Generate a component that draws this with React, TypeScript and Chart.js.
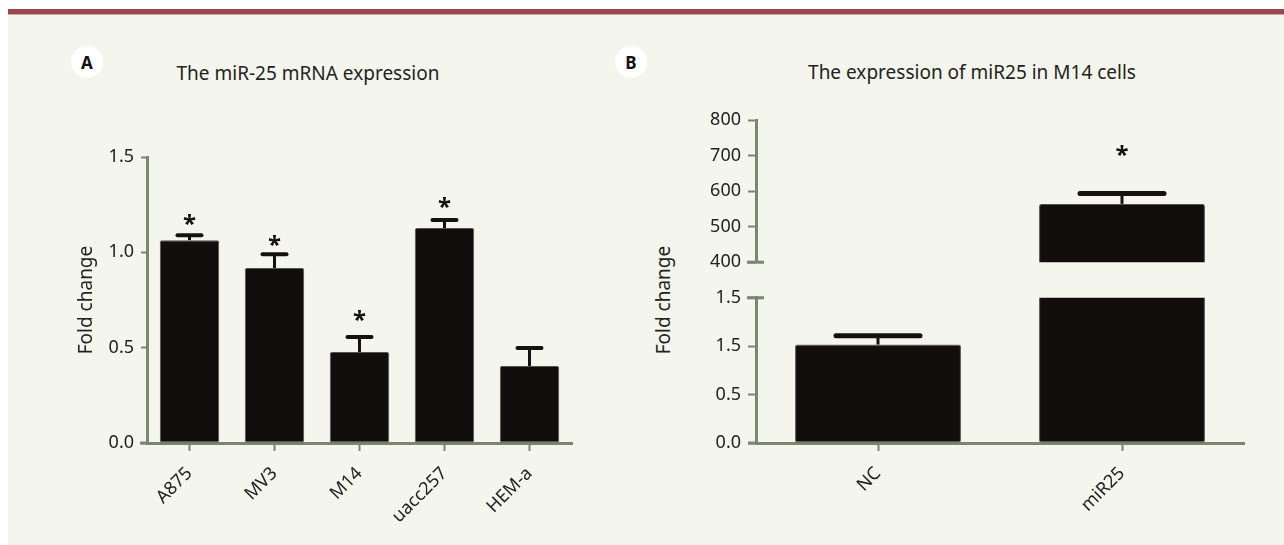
import React, { useEffect, useRef } from 'react';
import { Chart, registerables } from 'chart.js';

Chart.register(...registerables);

// ---------- data ----------
const cellLines = ['A875', 'MV3', 'M14', 'uacc257', 'HEM-a'];
const cellFold = [1.064, 0.918, 0.477, 1.127, 0.404];
const cellErr = [0.026, 0.072, 0.079, 0.042, 0.094];
const cellStars: (number | null)[] = [1.17, 1.06, 0.67, 1.26, null];
const cellTicks = [0, 0.5, 1.0, 1.5];

const groups = ['NC', 'miR25'];
const groupFold = [1.017, 564];
const groupErr = [0.09, 29];
const groupStars: (number | null)[] = [null, 715];
const upperTickLabels = ['400', '500', '600', '700', '800'];
const lowerTickLabels = ['0.0', '0.5', '1.5', '1.5'];

const titleA = 'The miR-25 mRNA expression';
const titleB = 'The expression of miR25 in M14 cells';
const yTitle = 'Fold change';

// ---------- style ----------
const FONT = "'Noto Sans', 'Open Sans', sans-serif";
const TEXT = '#232220';
const AXIS = '#7b8572';
const BAR = '#120e0c';
const BAR_EDGE = '#55554f';
const ERR = '#15110f';
const BG = '#f4f6ee';

function marksPlugin(values: number[], errs: number[], stars: (number | null)[], capW: number, capT: number) {
  return {
    id: 'marks',
    afterDatasetsDraw(chart: any) {
      const ctx = chart.ctx;
      const y = chart.scales.y;
      const meta = chart.getDatasetMeta(0);
      ctx.save();
      values.forEach((v, i) => {
        const bar = meta.data[i];
        if (!bar) return;
        const x = bar.x;
        if (v >= y.min && v <= y.max) {
          const y0 = y.getPixelForValue(v);
          const y1 = y.getPixelForValue(v + errs[i]);
          ctx.strokeStyle = ERR;
          ctx.lineWidth = 3;
          ctx.lineCap = 'butt';
          ctx.beginPath();
          ctx.moveTo(x, y0);
          ctx.lineTo(x, y1);
          ctx.stroke();
          ctx.lineWidth = capT;
          ctx.lineCap = 'round';
          ctx.beginPath();
          ctx.moveTo(x - capW / 2, y1);
          ctx.lineTo(x + capW / 2, y1);
          ctx.stroke();
        }
        const s = stars[i];
        if (s != null && s >= y.min && s <= y.max) {
          const yc = y.getPixelForValue(s);
          ctx.font = `bold 24px ${FONT}`;
          ctx.fillStyle = ERR;
          ctx.textAlign = 'center';
          ctx.textBaseline = 'alphabetic';
          const m = ctx.measureText('*');
          const off = (m.actualBoundingBoxAscent - m.actualBoundingBoxDescent) / 2;
          ctx.fillText('*', x, yc + off);
        }
      });
      ctx.restore();
    },
  };
}

function axisDecorPlugin(extendLeft: number, cap: 'none' | 'top' | 'bottom') {
  return {
    id: 'axisDecor',
    afterDraw(chart: any) {
      const ctx = chart.ctx;
      const { left, top, bottom } = chart.chartArea;
      ctx.save();
      ctx.strokeStyle = AXIS;
      ctx.lineWidth = 3;
      if (extendLeft > 0) {
        ctx.beginPath();
        ctx.moveTo(left - extendLeft, bottom);
        ctx.lineTo(left, bottom);
        ctx.stroke();
      }
      if (cap !== 'none') {
        const yy = cap === 'top' ? top : bottom;
        ctx.beginPath();
        ctx.moveTo(left - 9, yy);
        ctx.lineTo(left + 8, yy);
        ctx.stroke();
      }
      ctx.restore();
    },
  };
}

function yScale(min: number, max: number, step: number, labels: string[], width: number, tickLen: number, title?: any) {
  return {
    min,
    max,
    z: 1,
    ticks: {
      stepSize: step,
      color: TEXT,
      font: { family: FONT, size: 18 },
      padding: 7,
      callback: (_v: any, i: number) => labels[i],
    },
    grid: { display: true, drawOnChartArea: false, drawTicks: true, tickLength: tickLen, tickWidth: 2, tickColor: AXIS },
    border: { display: true, color: AXIS, width: 3 },
    title: title || { display: false },
    afterFit: (s: any) => {
      s.width = width;
    },
  };
}

function xScale(show: boolean) {
  const sc: any = {
    display: show,
    offset: true,
    z: 1,
    grid: { display: true, drawOnChartArea: false, drawTicks: true, tickLength: 8, tickWidth: 2, tickColor: AXIS, offset: false },
    border: { display: true, color: AXIS, width: 3 },
    ticks: { color: TEXT, font: { family: FONT, size: 18 }, minRotation: 45, maxRotation: 45, padding: 12, autoSkip: false },
  };
  if (show) {
    sc.afterFit = (s: any) => {
      s.height = 102;
    };
  }
  return sc;
}

function useChart(ref: React.RefObject<HTMLCanvasElement>, make: () => any) {
  useEffect(() => {
    if (!ref.current) return;
    const c = new Chart(ref.current, make());
    return () => c.destroy();
  }, []);
}

export default function App() {
  const aRef = useRef<HTMLCanvasElement>(null);
  const bUpRef = useRef<HTMLCanvasElement>(null);
  const bLoRef = useRef<HTMLCanvasElement>(null);

  useChart(aRef, () => ({
    type: 'bar',
    data: {
      labels: cellLines,
      datasets: [
        {
          data: cellFold,
          backgroundColor: BAR,
          borderColor: BAR_EDGE,
          borderWidth: 1,
          borderRadius: 2,
          borderSkipped: false,
          barPercentage: 0.7,
          categoryPercentage: 1,
        },
      ],
    },
    options: {
      animation: false,
      responsive: false,
      maintainAspectRatio: false,
      layout: { padding: { top: 57, right: 16, left: 0, bottom: 0 } },
      plugins: { legend: { display: false }, tooltip: { enabled: false } },
      scales: {
        x: xScale(true),
        y: yScale(0, 1.5, 0.5, cellTicks.map((t) => t.toFixed(1)), 139, 6, {
          display: true,
          text: yTitle,
          color: TEXT,
          font: { family: FONT, size: 19 },
          padding: { top: 67, bottom: 0 },
        }),
      },
    },
    plugins: [marksPlugin(cellFold, cellErr, cellStars, 24, 4), axisDecorPlugin(7, 'none')],
  }));

  const groupDataset = () => ({
    data: groupFold,
    backgroundColor: BAR,
    borderColor: BAR_EDGE,
    borderWidth: 1,
    borderRadius: 2,
    borderSkipped: false,
    barPercentage: 0.68,
    categoryPercentage: 1,
  });

  useChart(bUpRef, () => ({
    type: 'bar',
    data: { labels: groups, datasets: [groupDataset()] },
    options: {
      animation: false,
      responsive: false,
      maintainAspectRatio: false,
      layout: { padding: { top: 20, right: 40, left: 0, bottom: 11 } },
      plugins: { legend: { display: false }, tooltip: { enabled: false } },
      scales: {
        x: xScale(false),
        y: yScale(400, 800, 100, upperTickLabels, 156, 8),
      },
    },
    plugins: [marksPlugin(groupFold, groupErr, groupStars, 84, 5), axisDecorPlugin(0, 'bottom')],
  }));

  useChart(bLoRef, () => ({
    type: 'bar',
    data: { labels: groups, datasets: [groupDataset()] },
    options: {
      animation: false,
      responsive: false,
      maintainAspectRatio: false,
      layout: { padding: { top: 14, right: 40, left: 0, bottom: 0 } },
      plugins: { legend: { display: false }, tooltip: { enabled: false } },
      scales: {
        x: xScale(true),
        y: yScale(0, 1.5, 0.5, lowerTickLabels, 156, 8),
      },
    },
    plugins: [marksPlugin(groupFold, groupErr, groupStars, 84, 5), axisDecorPlugin(8, 'top')],
  }));

  const circle = (cx: number, cy: number, letter: string) => (
    <div
      style={{
        position: 'absolute',
        left: cx - 16,
        top: cy - 16,
        width: 32,
        height: 32,
        borderRadius: '50%',
        background: '#ffffff',
        display: 'flex',
        alignItems: 'center',
        justifyContent: 'center',
        font: `bold 17px ${FONT}`,
        color: '#111',
      }}
    >
      {letter}
    </div>
  );

  const title = (cx: number, cy: number, text: string) => (
    <div
      style={{
        position: 'absolute',
        left: cx,
        top: cy,
        transform: 'translate(-50%, -50%)',
        whiteSpace: 'nowrap',
        font: `19px ${FONT}`,
        color: TEXT,
      }}
    >
      {text}
    </div>
  );

  return (
    <div
      style={{
        position: 'fixed',
        left: 0,
        top: 0,
        width: 1284,
        height: 545,
        background: '#ffffff',
        overflow: 'hidden',
      }}
    >
      <div style={{ position: 'absolute', left: 8, top: 9, width: 1276, height: 5, background: '#9a4651' }} />
      <div style={{ position: 'absolute', left: 8, top: 14, width: 1276, height: 1, background: '#cfa0a6' }} />
      <div style={{ position: 'absolute', left: 8, top: 15, width: 1276, height: 530, background: BG }} />
      {circle(87, 62, 'A')}
      {circle(631, 62, 'B')}
      {title(308, 73, titleA)}
      {title(972, 72, titleB)}
      <div
        style={{
          position: 'absolute',
          left: 663,
          top: 300,
          transform: 'translate(-50%, -50%) rotate(-90deg)',
          whiteSpace: 'nowrap',
          font: `19px ${FONT}`,
          color: TEXT,
        }}
      >
        {yTitle}
      </div>
      <canvas ref={aRef} width={580} height={445} style={{ position: 'absolute', left: 8, top: 100, width: 580, height: 445 }} />
      <canvas ref={bUpRef} width={684} height={180} style={{ position: 'absolute', left: 600, top: 100, width: 684, height: 180 }} />
      <canvas ref={bLoRef} width={684} height={265} style={{ position: 'absolute', left: 600, top: 280, width: 684, height: 265 }} />
    </div>
  );
}
